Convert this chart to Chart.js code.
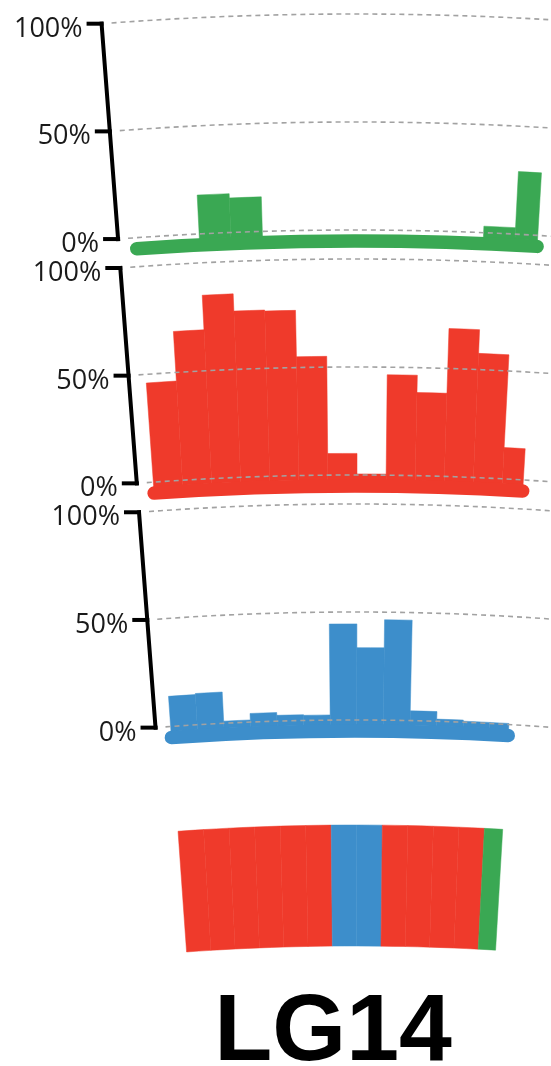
<!DOCTYPE html>
<html>
<head>
<meta charset="utf-8">
<title>LG14</title>
<script src="https://cdn.jsdelivr.net/npm/chart.js@4.4.1/dist/chart.umd.min.js"></script>
<style>
  html, body { margin: 0; padding: 0; background: #ffffff; }
  #stage { position: relative; width: 551px; height: 1066px; overflow: hidden; }
  #stage canvas { position: absolute; left: 0; top: 0; }
</style>
</head>
<body>
<div id="stage">
  <canvas id="trackGreen" width="551" height="1066"></canvas>
  <canvas id="trackRed" width="551" height="1066"></canvas>
  <canvas id="trackBlue" width="551" height="1066"></canvas>
  <canvas id="trackDominant" width="551" height="1066"></canvas>
</div>
<script>
// ---- data: share of each ancestry group per window along LG14 (percent) ----
const windows = ['1', '2', '3', '4', '5', '6', '7', '8', '9', '10', '11', '12', '13'];
const greenShare = [0, 0, 18, 16, 0, 0, 0, 0, 0, 0, 0, 3, 29];
const redShare   = [46, 69, 85, 77, 76.5, 55, 10, 0.5, 46.5, 38.5, 68.5, 57.5, 14.5];
const blueShare  = [14, 14.5, 1, 4, 2.7, 2.4, 44.5, 33.5, 46.5, 4.5, 1, 0.5, 0.5];
const dominantGroup = ['red', 'red', 'red', 'red', 'red', 'red', 'blue', 'blue', 'red', 'red', 'red', 'red', 'green'];
const axisTicks = [0, 50, 100];
const axisTickLabels = ['0%', '50%', '100%'];
const chromosomeName = 'LG14';

// ---- circular layout: this chromosome is an arc of a large circle ----
const W = 551, H = 1066;
const CENTER_X = 355, CENTER_Y = 3330;      // circle centre (far below the page)
const THETA_START = -0.0707;                // angle of the first window's left edge
const BIN_ANGLE = 0.0102;                   // angular width of one window
const THETA_END = 0.059;                    // chromosome end (last window is partial)
const AXIS_THETA = -0.0765;                 // angle of the percent axis
const HALF_PI = Math.PI / 2;

const groupColors = { green: '#3aa853', red: '#ef3a2b', blue: '#3d8ecb' };

function polar(r, theta) {
  return { x: CENTER_X + r * Math.sin(theta), y: CENTER_Y - r * Math.cos(theta) };
}

function sector(ctx, rOuter, rInner, a1, a2, color) {
  ctx.beginPath();
  ctx.arc(CENTER_X, CENTER_Y, rOuter, a1 - HALF_PI, a2 - HALF_PI, false);
  ctx.arc(CENTER_X, CENTER_Y, rInner, a2 - HALF_PI, a1 - HALF_PI, true);
  ctx.closePath();
  ctx.fillStyle = color;
  ctx.fill();
  ctx.lineWidth = 0.5;
  ctx.strokeStyle = color;
  ctx.stroke();
}

// Bends each bar chart onto its ring: the unrolled chart area is mapped to
// angle (x) and radius (y) around the circle centre.
const ringPlugin = {
  id: 'ring',
  beforeDatasetDraw() { return false; },
  afterDraw(chart, args, o) {
    const ctx = chart.ctx;
    const ys = chart.scales.y;
    const meta = chart.getDatasetMeta(0);
    const ds = chart.data.datasets[0];
    const radiusOf = v => CENTER_Y - ys.getPixelForValue(v);
    ctx.save();

    // bars as annular sectors
    meta.data.forEach((bar, i) => {
      if (!ds.data[i]) return;
      const p = bar.getProps(['x', 'y', 'base', 'width'], true);
      const a1 = (p.x - p.width / 2 - CENTER_X) / o.r0;
      const a2 = Math.min((p.x + p.width / 2 - CENTER_X) / o.r0, THETA_END);
      const color = Array.isArray(ds.backgroundColor) ? ds.backgroundColor[i] : ds.backgroundColor;
      sector(ctx, CENTER_Y - p.y, CENTER_Y - p.base - o.bleed, a1, a2, color);
    });

    // dashed circular grid
    if (o.grid) {
      ctx.setLineDash([5, 4]);
      ctx.lineWidth = 1.6;
      ctx.strokeStyle = '#a2a2a2';
      axisTicks.forEach(v => {
        const r = radiusOf(v);
        const a1 = AXIS_THETA + 10 / r;
        const a2 = Math.asin((W + 20 - CENTER_X) / r);
        ctx.beginPath();
        ctx.arc(CENTER_X, CENTER_Y, r, a1 - HALF_PI, a2 - HALF_PI, false);
        ctx.stroke();
      });
      ctx.setLineDash([]);
    }

    // thick ring baseline
    if (o.baseline) {
      const r = radiusOf(0) - 11;
      ctx.beginPath();
      ctx.arc(CENTER_X, CENTER_Y, r, THETA_START - HALF_PI, THETA_END - HALF_PI, false);
      ctx.lineWidth = 13.5;
      ctx.lineCap = 'round';
      ctx.strokeStyle = o.lineColor;
      ctx.stroke();
    }

    // radial percent axis with ticks and labels
    if (o.axis) {
      const pLow = polar(radiusOf(0), AXIS_THETA);
      const pHigh = polar(radiusOf(100), AXIS_THETA);
      ctx.strokeStyle = '#000000';
      ctx.lineWidth = 4;
      ctx.lineCap = 'square';
      ctx.beginPath();
      ctx.moveTo(pLow.x, pLow.y);
      ctx.lineTo(pHigh.x, pHigh.y);
      ctx.stroke();
      ctx.lineCap = 'butt';
      ctx.font = '27px "Open Sans", "DejaVu Sans", sans-serif';
      ctx.fillStyle = '#1a1a1a';
      ctx.textAlign = 'right';
      ctx.textBaseline = 'alphabetic';
      axisTicks.forEach((v, i) => {
        const p = polar(radiusOf(v), AXIS_THETA);
        ctx.beginPath();
        ctx.moveTo(p.x - 15, p.y);
        ctx.lineTo(p.x + 2, p.y);
        ctx.stroke();
        ctx.fillText(axisTickLabels[i], p.x - 19, p.y + 13);
      });
    }

    if (o.title) {
      ctx.font = 'bold 95px "Liberation Sans", Arial, sans-serif';
      ctx.fillStyle = '#000000';
      ctx.textAlign = 'center';
      ctx.textBaseline = 'alphabetic';
      ctx.fillText(o.title, 333, 1060);
    }
    ctx.restore();
  }
};

function ringChart(canvasId, values, colors, ring) {
  const left = CENTER_X + ring.r0 * THETA_START;
  const right = CENTER_X + ring.r0 * (THETA_START + windows.length * BIN_ANGLE);
  const top = CENTER_Y - (ring.r0 + ring.depth);
  const bottom = CENTER_Y - ring.r0;
  return new Chart(document.getElementById(canvasId), {
    type: 'bar',
    data: {
      labels: windows,
      datasets: [{
        data: values,
        backgroundColor: colors,
        borderWidth: 0,
        barPercentage: 1,
        categoryPercentage: 1
      }]
    },
    options: {
      responsive: false,
      animation: false,
      devicePixelRatio: 1,
      events: [],
      layout: { padding: { left: left, right: W - right, top: top, bottom: H - bottom } },
      scales: {
        x: { type: 'category', display: false },
        y: { type: 'linear', display: false, min: 0, max: ring.max }
      },
      plugins: { legend: { display: false }, tooltip: { enabled: false }, ring: ring }
    },
    plugins: [ringPlugin]
  });
}

const TRACK_DEPTH = 216;

ringChart('trackGreen', greenShare, groupColors.green,
  { r0: 3100, depth: TRACK_DEPTH, max: 100, bleed: 5, grid: true, baseline: true, axis: true, lineColor: groupColors.green });
ringChart('trackRed', redShare, groupColors.red,
  { r0: 2855, depth: TRACK_DEPTH, max: 100, bleed: 5, grid: true, baseline: true, axis: true, lineColor: groupColors.red });
ringChart('trackBlue', blueShare, groupColors.blue,
  { r0: 2610, depth: TRACK_DEPTH, max: 100, bleed: 5, grid: true, baseline: true, axis: true, lineColor: groupColors.blue });
ringChart('trackDominant', dominantGroup.map(() => 1), dominantGroup.map(g => groupColors[g]),
  { r0: 2384, depth: 121, max: 1, bleed: 0, grid: false, baseline: false, axis: false, title: chromosomeName });
</script>
</body>
</html>
